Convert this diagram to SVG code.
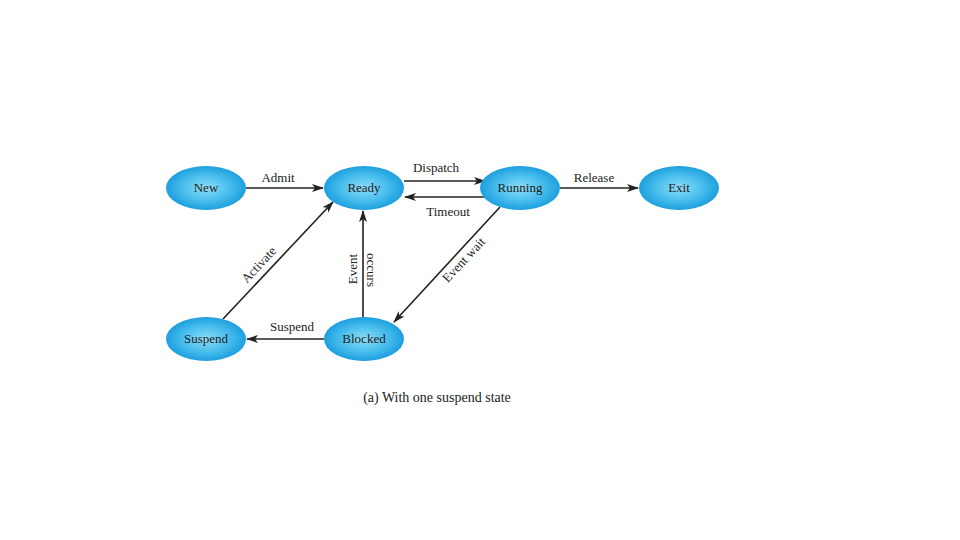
<svg xmlns="http://www.w3.org/2000/svg" width="960" height="540" viewBox="0 0 960 540">
<defs>
<radialGradient id="g" cx="50%" cy="50%" r="50%">
<stop offset="0" stop-color="#8fdcf7"/>
<stop offset="0.55" stop-color="#4cc0ee"/>
<stop offset="1" stop-color="#1d9fdf"/>
</radialGradient>
<marker id="a" viewBox="0 0 12 8" refX="11" refY="4" markerWidth="12" markerHeight="8" markerUnits="userSpaceOnUse" orient="auto">
<path d="M0,0 L12,4 L0,8 L3,4 Z" fill="#222"/>
</marker>
</defs>
<style>
.n{fill:url(#g);stroke:none}
.t{font-family:"Liberation Serif",serif;font-size:13px;fill:#222;text-anchor:middle}
.c{stroke:#222;stroke-width:1.6;fill:none;marker-end:url(#a)}
</style>
<rect width="960" height="540" fill="#fff"/>
<g id="connectors">
<line class="c" x1="246" y1="188" x2="323" y2="188"/>
<line class="c" x1="404" y1="181" x2="485" y2="181"/>
<line class="c" x1="487" y1="197" x2="405" y2="197"/>
<line class="c" x1="560" y1="188" x2="638" y2="188"/>
<line class="c" x1="500" y1="207" x2="394" y2="322"/>
<line class="c" x1="363" y1="318" x2="363" y2="211"/>
<line class="c" x1="223" y1="319" x2="333" y2="202"/>
<line class="c" x1="324" y1="339" x2="247" y2="339"/>
<text class="t" x="278" y="182">Admit</text>
<text class="t" x="436" y="172">Dispatch</text>
<text class="t" x="448" y="216">Timeout</text>
<text class="t" x="594" y="182">Release</text>
<text class="t" x="292" y="331">Suspend</text>
<text class="t" transform="translate(353,269) rotate(-90)" y="4">Event</text>
<text class="t" transform="translate(371,270) rotate(90)" y="4">occurs</text>
<text class="t" transform="translate(259,265) rotate(-47)" y="4">Activate</text>
<text class="t" transform="translate(464,260) rotate(-47)" y="4">Event wait</text>
</g>
<g id="new"><ellipse class="n" cx="206" cy="188" rx="40" ry="22"/><text class="t" x="206" y="192">New</text></g>
<g id="ready"><ellipse class="n" cx="364" cy="188" rx="40" ry="22"/><text class="t" x="364" y="192">Ready</text></g>
<g id="running"><ellipse class="n" cx="520" cy="188" rx="40" ry="22"/><text class="t" x="520" y="192">Running</text></g>
<g id="exit"><ellipse class="n" cx="679" cy="188" rx="40" ry="22"/><text class="t" x="679" y="192">Exit</text></g>
<g id="suspend"><ellipse class="n" cx="206" cy="339" rx="40" ry="22"/><text class="t" x="206" y="343">Suspend</text></g>
<g id="blocked"><ellipse class="n" cx="364" cy="339" rx="40" ry="22"/><text class="t" x="364" y="343">Blocked</text></g>
<text class="t" x="437" y="402" style="font-size:14px">(a) With one suspend state</text>
</svg>
